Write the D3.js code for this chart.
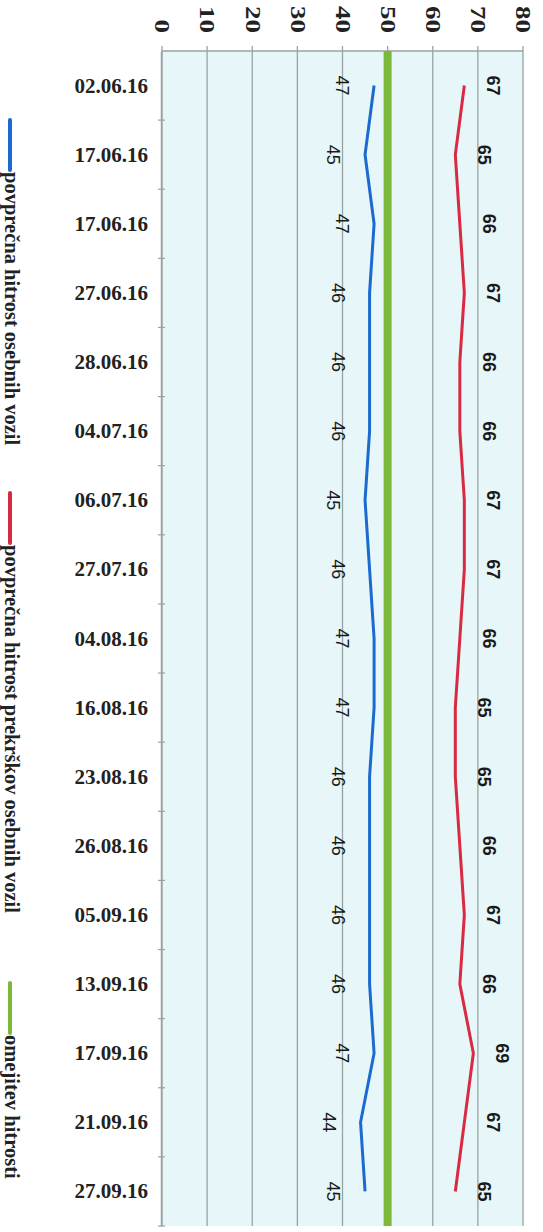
<!DOCTYPE html>
<html><head><meta charset="utf-8">
<script src="https://cdn.jsdelivr.net/npm/d3@7"></script>
<style>html,body{margin:0;padding:0;background:#fff;}svg{display:block;}</style>
</head><body>
<script>
const categories = ["02.06.16","17.06.16","17.06.16","27.06.16","28.06.16","04.07.16","06.07.16","27.07.16","04.08.16","16.08.16","23.08.16","26.08.16","05.09.16","13.09.16","17.09.16","21.09.16","27.09.16"];
const avgSpeed = [47,45,47,46,46,46,45,46,47,47,46,46,46,46,47,44,45];
const avgViolationSpeed = [67,65,66,67,66,66,67,67,66,65,65,66,67,66,69,67,65];
const speedLimit = [50,50,50,50,50,50,50,50,50,50,50,50,50,50,50,50,50];
const valueTicks = [0,10,20,30,40,50,60,70,80];
const seriesNames = ["povprečna hitrost osebnih vozil","povprečna hitrost prekrškov osebnih vozil","omejitev hitrosti"];
const seriesColors = ["#1a6ad0","#d82a40","#7cb83a"];

const PW = 543, PH = 1232;
// chart is drawn in its natural orientation (W x H) and rotated 90° clockwise
const svg = d3.select("body").append("svg").attr("width", PW).attr("height", PH);
const g = svg.append("g").attr("transform", `translate(${PW},0) rotate(90)`);

const plot = {x0: 51, x1: 1226, y0: 20, y1: 381};
const idx = categories.map((d,i)=>i);
const x = d3.scaleBand().domain(idx).range([plot.x0, plot.x1]);
const y = d3.scaleLinear().domain([0,80]).range([plot.y1, plot.y0]);
const cx = i => x(i) + x.bandwidth()/2;

// background
g.append("rect").attr("x", plot.x0).attr("y", plot.y0)
  .attr("width", plot.x1-plot.x0).attr("height", plot.y1-plot.y0).attr("fill", "#e6f6f9");

// gridlines
g.append("g").selectAll("line").data(valueTicks).join("line")
  .attr("x1", plot.x0-5).attr("x2", plot.x1)
  .attr("y1", d=>y(d)).attr("y2", d=>y(d))
  .attr("stroke", "#98a3a3").attr("stroke-width", 1.3);

// value axis line (left in natural orientation)
g.append("line").attr("x1", plot.x0).attr("x2", plot.x0).attr("y1", plot.y0).attr("y2", plot.y1)
  .attr("stroke","#98a3a3").attr("stroke-width",1.5);

// value tick labels
g.append("g").selectAll("text").data(valueTicks).join("text")
  .attr("transform", d=>`translate(33,${y(d)}) scale(1.35,1)`)
  .attr("text-anchor","end").attr("dominant-baseline","central")
  .attr("font-family","Liberation Serif").attr("font-weight","bold").attr("font-size",20)
  .attr("fill","#222").text(d=>d);

// category axis
const catAxis = g.append("g").attr("transform", `translate(0,${plot.y1})`)
  .call(d3.axisBottom(x).tickFormat(i=>categories[i]).tickSize(0).tickPadding(14));
catAxis.select(".domain").attr("stroke","#98a3a3").attr("stroke-width",1.5);
catAxis.selectAll("text")
  .attr("transform","rotate(-90)").attr("text-anchor","end").attr("dominant-baseline","central")
  .attr("x",-14).attr("y",0).attr("dy",null)
  .attr("font-family","Liberation Serif").attr("font-weight","bold").attr("font-size",21).attr("fill","#222");
// tick marks between categories
const bounds = idx.map(i=>x(i)).concat([x(idx[idx.length-1])+x.bandwidth()]).slice(1);
g.append("g").selectAll("line").data(bounds).join("line")
  .attr("x1",d=>d).attr("x2",d=>d).attr("y1",plot.y1-3).attr("y2",plot.y1+4)
  .attr("stroke","#98a3a3").attr("stroke-width",1.2);

// lines
const line = d3.line().x((d,i)=>cx(i)).y(d=>y(d));
g.append("path").datum(speedLimit)
  .attr("d", d3.line().x((d,i)=> i===0 ? plot.x0 : (i===speedLimit.length-1 ? plot.x1 : cx(i))).y(d=>y(d)))
  .attr("fill","none").attr("stroke",seriesColors[2]).attr("stroke-width",8);
g.append("path").datum(avgSpeed).attr("d", line)
  .attr("fill","none").attr("stroke",seriesColors[0]).attr("stroke-width",3);
g.append("path").datum(avgViolationSpeed).attr("d", line)
  .attr("fill","none").attr("stroke",seriesColors[1]).attr("stroke-width",3);

// data labels
g.append("g").selectAll("text").data(avgSpeed).join("text")
  .attr("x",(d,i)=>cx(i)).attr("y",d=>y(d)+32)
  .attr("text-anchor","middle").attr("dominant-baseline","central")
  .attr("font-family","Liberation Sans").attr("font-size",18).attr("fill","#1a1a1a").text(d=>d);
g.append("g").selectAll("text").data(avgViolationSpeed).join("text")
  .attr("x",(d,i)=>cx(i)).attr("y",d=>y(d)-29)
  .attr("text-anchor","middle").attr("dominant-baseline","central")
  .attr("font-family","Liberation Sans").attr("font-weight","bold").attr("font-size",18).attr("fill","#1a1a1a").text(d=>d);

// legend
const legendX = [120, 493, 983];
const lg = g.append("g").selectAll("g").data(seriesNames).join("g")
  .attr("transform",(d,i)=>`translate(${legendX[i]},533)`);
lg.append("line").attr("x1",0).attr("x2",50).attr("y1",0).attr("y2",0)
  .attr("stroke",(d,i)=>seriesColors[i]).attr("stroke-width",4).attr("stroke-linecap","round");
lg.append("text").attr("x",52).attr("y",5)
  .attr("font-family","Liberation Serif").attr("font-weight","bold").attr("font-size",20.5)
  .attr("fill","#222").text(d=>d);
</script>
</body></html>
